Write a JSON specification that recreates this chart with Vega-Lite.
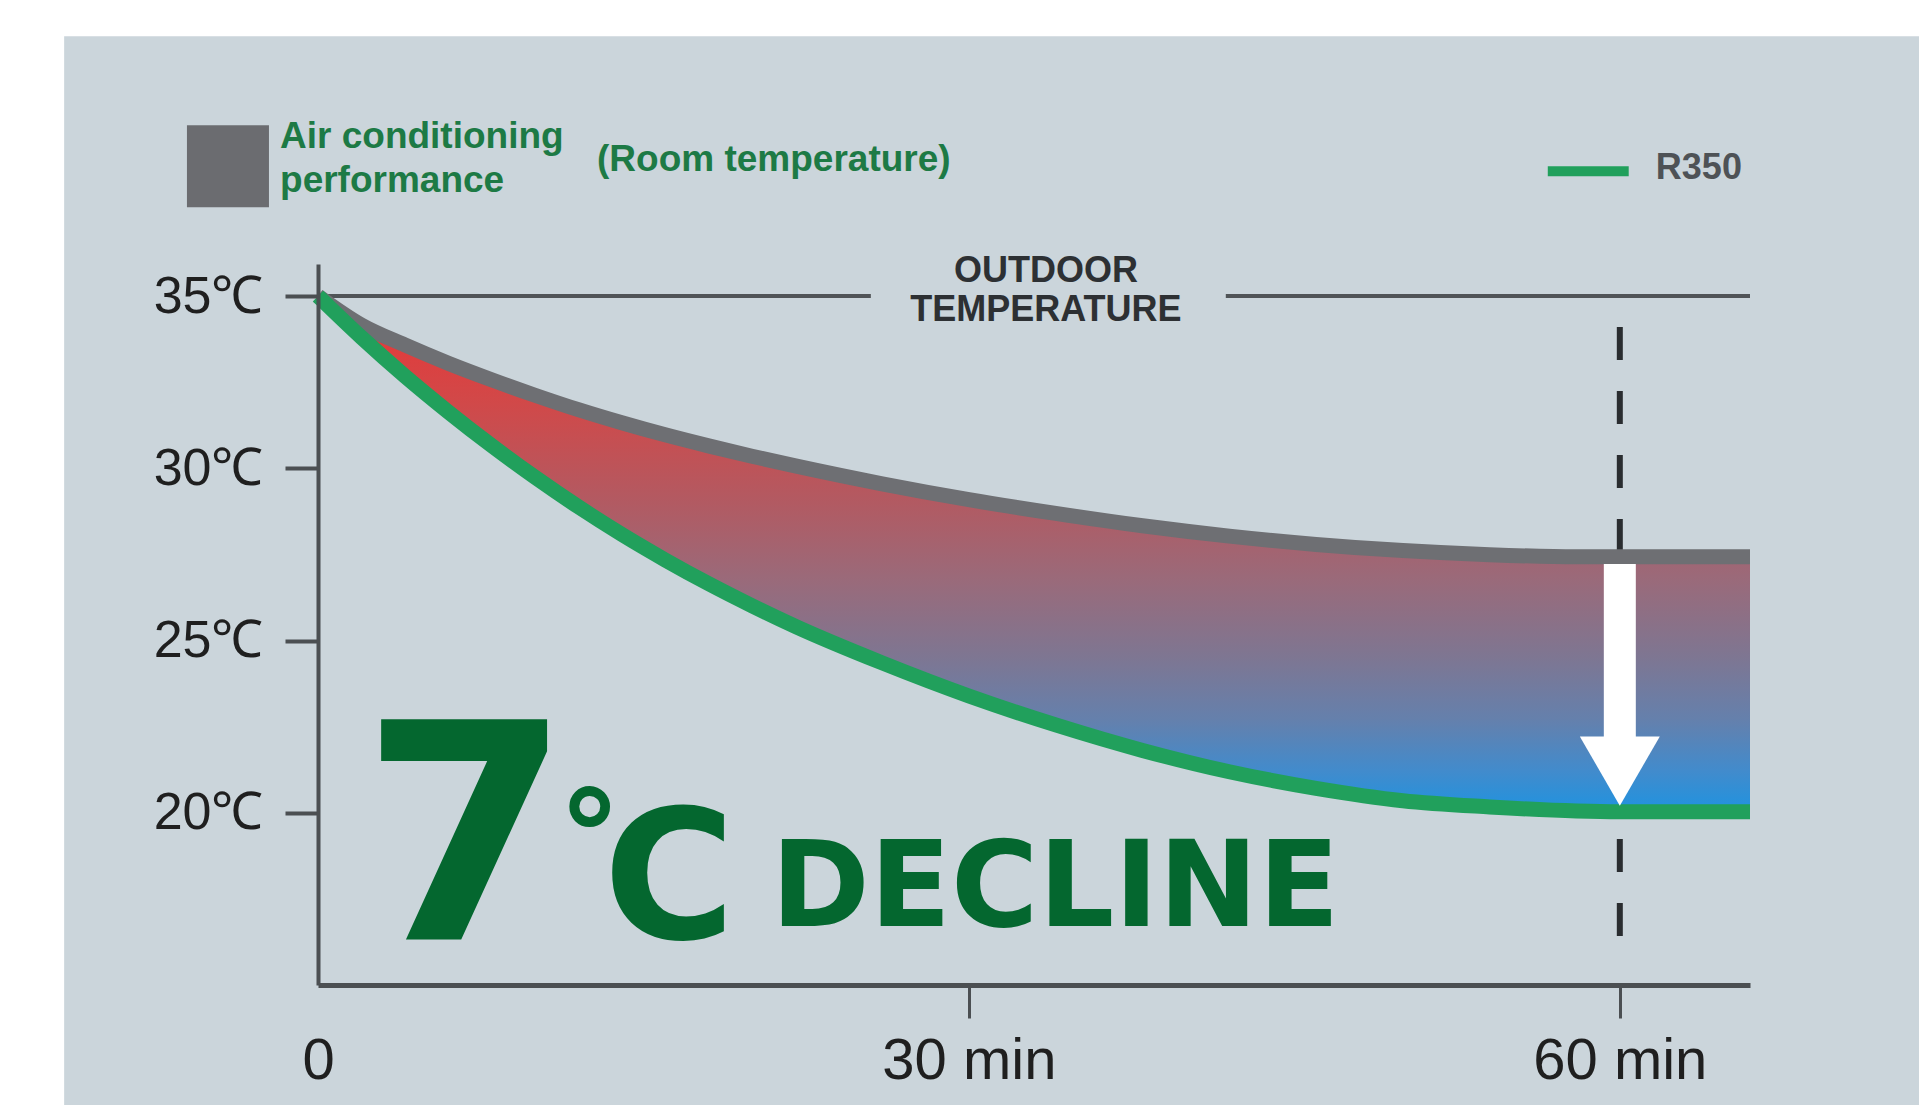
{
  "$schema": "https://vega.github.io/schema/vega-lite/v6.json",
  "width": 1432,
  "height": 721,
  "autosize": {"type": "none"},
  "padding": {"left": 318, "top": 264, "right": 169, "bottom": 120},
  "background": "#ffffff",
  "config": {
    "view": {"stroke": null},
    "font": "Liberation Sans",
    "axisX": {"domainColor": "#4b4f52", "domainWidth": 5, "tickWidth": 3, "tickSize": 33, "labelFontSize": 58, "labelColor": "#1f1f1f", "labelPadding": 14, "labelFlush": false, "labelOverlap": false, "grid": false, "labelFont": "Liberation Sans"},
    "axisY": {"domainColor": "#4b4f52", "domainWidth": 4, "tickColor": "#4b4f52", "tickWidth": 4, "tickSize": 33, "labelFontSize": 52, "labelColor": "#1f1f1f", "labelPadding": 22, "grid": false, "labelFont": "Liberation Sans"}
  },
  "data": {"values": [
    {"t": 0, "ac": 35, "r350": 35},
    {"t": 2, "ac": 34.16, "r350": 33.8},
    {"t": 4, "ac": 33.58, "r350": 32.68},
    {"t": 6, "ac": 33.05, "r350": 31.64},
    {"t": 8, "ac": 32.57, "r350": 30.66},
    {"t": 10, "ac": 32.12, "r350": 29.74},
    {"t": 12, "ac": 31.7, "r350": 28.88},
    {"t": 14, "ac": 31.32, "r350": 28.08},
    {"t": 16, "ac": 30.97, "r350": 27.34},
    {"t": 18, "ac": 30.65, "r350": 26.65},
    {"t": 20, "ac": 30.35, "r350": 26.01},
    {"t": 22, "ac": 30.07, "r350": 25.41},
    {"t": 26, "ac": 29.55, "r350": 24.35},
    {"t": 30, "ac": 29.09, "r350": 23.39},
    {"t": 34, "ac": 28.69, "r350": 22.55},
    {"t": 38, "ac": 28.33, "r350": 21.81},
    {"t": 42, "ac": 28.03, "r350": 21.19},
    {"t": 46, "ac": 27.79, "r350": 20.71},
    {"t": 50, "ac": 27.61, "r350": 20.35},
    {"t": 54, "ac": 27.49, "r350": 20.17},
    {"t": 58, "ac": 27.43, "r350": 20.05},
    {"t": 60, "ac": 27.43, "r350": 20.03},
    {"t": 62, "ac": 27.43, "r350": 20.03},
    {"t": 66, "ac": 27.43, "r350": 20.03}
  ]},
  "layer": [
    {
      "mark": {
        "type": "area",
        "interpolate": "monotone",
        "opacity": 0
      },
      "encoding": {
        "x": {"field": "t", "type": "quantitative", "scale": {"domain": [0, 66], "nice": false, "zero": false},
              "axis": {"orient": "bottom", "values": [0, 30, 60], "title": null, "zindex": 1, "labelExpr": "datum.value == 0 ? '0' : datum.value + ' min'",
                       "tickColor": {"condition": {"test": "datum.value === 0", "value": "transparent"}, "value": "#4b4f52"}}},
        "y": {"field": "ac", "type": "quantitative", "scale": {"domain": [15, 35.93], "nice": false, "zero": false},
              "axis": {"orient": "left", "values": [20, 25, 30, 35], "title": null, "zindex": 1, "labelExpr": "datum.value + '℃'"}},
        "y2": {"field": "r350"}
      }
    },
    {
      "data": {"values": [{}]},
      "mark": {"type": "rect", "color": "#cbd5db"},
      "encoding": {
        "x": {"datum": -11.7, "type": "quantitative", "scale": {"domain": [0, 66], "nice": false, "zero": false}},
        "x2": {"datum": 80},
        "y": {"datum": 42.54, "type": "quantitative", "scale": {"domain": [15, 35.93], "nice": false, "zero": false}},
        "y2": {"datum": 5}
      }
    },
    {
      "data": {"values": [{}]},
      "mark": {"type": "rule", "color": "#505457", "strokeWidth": 4},
      "encoding": {
        "x": {"datum": 0, "type": "quantitative", "scale": {"domain": [0, 66], "nice": false, "zero": false}},
        "x2": {"datum": 25.48},
        "y": {"datum": 35, "type": "quantitative", "scale": {"domain": [15, 35.93], "nice": false, "zero": false}}
      }
    },
    {
      "data": {"values": [{}]},
      "mark": {"type": "rule", "color": "#505457", "strokeWidth": 4},
      "encoding": {
        "x": {"datum": 41.84, "type": "quantitative", "scale": {"domain": [0, 66], "nice": false, "zero": false}},
        "x2": {"datum": 66},
        "y": {"datum": 35, "type": "quantitative", "scale": {"domain": [15, 35.93], "nice": false, "zero": false}}
      }
    },
    {
      "data": {"values": [{}]},
      "mark": {"type": "rule", "color": "#2a2d30", "strokeWidth": 6, "strokeDash": [33, 31]},
      "encoding": {
        "x": {"datum": 60, "type": "quantitative", "scale": {"domain": [0, 66], "nice": false, "zero": false}},
        "y": {"datum": 34.1, "type": "quantitative", "scale": {"domain": [15, 35.93], "nice": false, "zero": false}},
        "y2": {"datum": 16.38}
      }
    },
    {
      "mark": {
        "type": "area",
        "interpolate": "monotone",
        "opacity": 1,
        "color": {
          "gradient": "linear", "x1": 0, "y1": 0, "x2": 0, "y2": 1,
          "stops": [
            {"offset": 0, "color": "#ea3434"},
            {"offset": 0.2, "color": "#d24848"},
            {"offset": 0.4, "color": "#b25a62"},
            {"offset": 0.55, "color": "#9a6a7a"},
            {"offset": 0.7, "color": "#7e7692"},
            {"offset": 0.82, "color": "#6580ac"},
            {"offset": 0.92, "color": "#428bcc"},
            {"offset": 1, "color": "#1f93e0"}
          ]
        }
      },
      "encoding": {
        "x": {"field": "t", "type": "quantitative", "scale": {"domain": [0, 66], "nice": false, "zero": false}},
        "y": {"field": "ac", "type": "quantitative", "scale": {"domain": [15, 35.93], "nice": false, "zero": false}},
        "y2": {"field": "r350"}
      }
    },
    {
      "mark": {"type": "line", "interpolate": "monotone", "strokeWidth": 15, "color": "#6e6f73", "strokeCap": "butt"},
      "encoding": {
        "x": {"field": "t", "type": "quantitative", "scale": {"domain": [0, 66], "nice": false, "zero": false}},
        "y": {"field": "ac", "type": "quantitative", "scale": {"domain": [15, 35.93], "nice": false, "zero": false}}
      }
    },
    {
      "mark": {"type": "line", "interpolate": "monotone", "strokeWidth": 15, "color": "#21a05c", "strokeCap": "butt"},
      "encoding": {
        "x": {"field": "t", "type": "quantitative", "scale": {"domain": [0, 66], "nice": false, "zero": false}},
        "y": {"field": "r350", "type": "quantitative", "scale": {"domain": [15, 35.93], "nice": false, "zero": false}}
      }
    },
    {
      "data": {"values": [{}]},
      "mark": {"type": "rule", "color": "#ffffff", "strokeWidth": 32, "strokeCap": "butt"},
      "encoding": {
        "x": {"datum": 60, "type": "quantitative", "scale": {"domain": [0, 66], "nice": false, "zero": false}},
        "y": {"datum": 27.22, "type": "quantitative", "scale": {"domain": [15, 35.93], "nice": false, "zero": false}},
        "y2": {"datum": 21.6}
      }
    },
    {
      "data": {"values": [{}]},
      "mark": {"type": "point", "shape": "triangle-down", "size": 6400, "filled": true, "color": "#ffffff", "opacity": 1, "strokeWidth": 0},
      "encoding": {
        "x": {"datum": 60, "type": "quantitative", "scale": {"domain": [0, 66], "nice": false, "zero": false}},
        "y": {"datum": 21.21, "type": "quantitative", "scale": {"domain": [15, 35.93], "nice": false, "zero": false}}
      }
    },
    {
      "data": {"values": [{}]},
      "mark": {"type": "text", "text": "OUTDOOR", "align": "center", "baseline": "middle", "fontSize": 36, "fontWeight": "bold", "color": "#2d3033", "font": "Liberation Sans"},
      "encoding": {
        "x": {"datum": 33.55, "type": "quantitative", "scale": {"domain": [0, 66], "nice": false, "zero": false}},
        "y": {"datum": 35.73, "type": "quantitative", "scale": {"domain": [15, 35.93], "nice": false, "zero": false}}
      }
    },
    {
      "data": {"values": [{}]},
      "mark": {"type": "text", "text": "TEMPERATURE", "align": "center", "baseline": "middle", "fontSize": 36, "fontWeight": "bold", "color": "#2d3033", "font": "Liberation Sans"},
      "encoding": {
        "x": {"datum": 33.55, "type": "quantitative", "scale": {"domain": [0, 66], "nice": false, "zero": false}},
        "y": {"datum": 34.59, "type": "quantitative", "scale": {"domain": [15, 35.93], "nice": false, "zero": false}}
      }
    },
    {
      "data": {"values": [{}]},
      "mark": {"type": "text", "text": "7", "align": "left", "baseline": "alphabetic", "fontSize": 302, "fontWeight": "bold", "color": "#04672f", "font": "DejaVu Sans"},
      "encoding": {
        "x": {"datum": 1.98, "type": "quantitative", "scale": {"domain": [0, 66], "nice": false, "zero": false}},
        "y": {"datum": 16.32, "type": "quantitative", "scale": {"domain": [15, 35.93], "nice": false, "zero": false}}
      }
    },
    {
      "data": {"values": [{}]},
      "mark": {"type": "text", "text": "°", "align": "center", "baseline": "alphabetic", "fontSize": 125, "fontWeight": "bold", "color": "#04672f", "font": "DejaVu Sans"},
      "encoding": {
        "x": {"datum": 12.53, "type": "quantitative", "scale": {"domain": [0, 66], "nice": false, "zero": false}},
        "y": {"datum": 18.05, "type": "quantitative", "scale": {"domain": [15, 35.93], "nice": false, "zero": false}}
      }
    },
    {
      "data": {"values": [{}]},
      "mark": {"type": "text", "text": "C", "align": "left", "baseline": "alphabetic", "fontSize": 180, "fontWeight": "bold", "color": "#04672f", "font": "DejaVu Sans"},
      "encoding": {
        "x": {"datum": 13.15, "type": "quantitative", "scale": {"domain": [0, 66], "nice": false, "zero": false}},
        "y": {"datum": 16.35, "type": "quantitative", "scale": {"domain": [15, 35.93], "nice": false, "zero": false}}
      }
    },
    {
      "data": {"values": [{}]},
      "mark": {"type": "text", "text": "DECLINE", "align": "left", "baseline": "alphabetic", "fontSize": 119, "fontWeight": "bold", "color": "#04672f", "font": "DejaVu Sans"},
      "encoding": {
        "x": {"datum": 20.88, "type": "quantitative", "scale": {"domain": [0, 66], "nice": false, "zero": false}},
        "y": {"datum": 16.72, "type": "quantitative", "scale": {"domain": [15, 35.93], "nice": false, "zero": false}}
      }
    },
    {
      "data": {"values": [{}]},
      "mark": {"type": "rect", "color": "#6b6c70"},
      "encoding": {
        "x": {"datum": -6.04, "type": "quantitative", "scale": {"domain": [0, 66], "nice": false, "zero": false}},
        "x2": {"datum": -2.26},
        "y": {"datum": 39.96, "type": "quantitative", "scale": {"domain": [15, 35.93], "nice": false, "zero": false}},
        "y2": {"datum": 37.58}
      }
    },
    {
      "data": {"values": [{}]},
      "mark": {"type": "text", "text": "Air conditioning", "align": "left", "baseline": "middle", "fontSize": 37, "fontWeight": "bold", "color": "#1d7a45", "font": "Liberation Sans"},
      "encoding": {
        "x": {"datum": -1.75, "type": "quantitative", "scale": {"domain": [0, 66], "nice": false, "zero": false}},
        "y": {"datum": 39.61, "type": "quantitative", "scale": {"domain": [15, 35.93], "nice": false, "zero": false}}
      }
    },
    {
      "data": {"values": [{}]},
      "mark": {"type": "text", "text": "performance", "align": "left", "baseline": "middle", "fontSize": 37, "fontWeight": "bold", "color": "#1d7a45", "font": "Liberation Sans"},
      "encoding": {
        "x": {"datum": -1.75, "type": "quantitative", "scale": {"domain": [0, 66], "nice": false, "zero": false}},
        "y": {"datum": 38.34, "type": "quantitative", "scale": {"domain": [15, 35.93], "nice": false, "zero": false}}
      }
    },
    {
      "data": {"values": [{}]},
      "mark": {"type": "text", "text": "(Room temperature)", "align": "left", "baseline": "middle", "fontSize": 37, "fontWeight": "bold", "color": "#1d7a45", "font": "Liberation Sans"},
      "encoding": {
        "x": {"datum": 12.86, "type": "quantitative", "scale": {"domain": [0, 66], "nice": false, "zero": false}},
        "y": {"datum": 38.95, "type": "quantitative", "scale": {"domain": [15, 35.93], "nice": false, "zero": false}}
      }
    },
    {
      "data": {"values": [{}]},
      "mark": {"type": "rule", "color": "#21a05c", "strokeWidth": 10, "strokeCap": "butt"},
      "encoding": {
        "x": {"datum": 56.68, "type": "quantitative", "scale": {"domain": [0, 66], "nice": false, "zero": false}},
        "x2": {"datum": 60.41},
        "y": {"datum": 38.62, "type": "quantitative", "scale": {"domain": [15, 35.93], "nice": false, "zero": false}}
      }
    },
    {
      "data": {"values": [{}]},
      "mark": {"type": "text", "text": "R350", "align": "left", "baseline": "middle", "fontSize": 36, "fontWeight": "bold", "color": "#4e5256", "font": "Liberation Sans"},
      "encoding": {
        "x": {"datum": 61.66, "type": "quantitative", "scale": {"domain": [0, 66], "nice": false, "zero": false}},
        "y": {"datum": 38.72, "type": "quantitative", "scale": {"domain": [15, 35.93], "nice": false, "zero": false}}
      }
    }
  ]
}
